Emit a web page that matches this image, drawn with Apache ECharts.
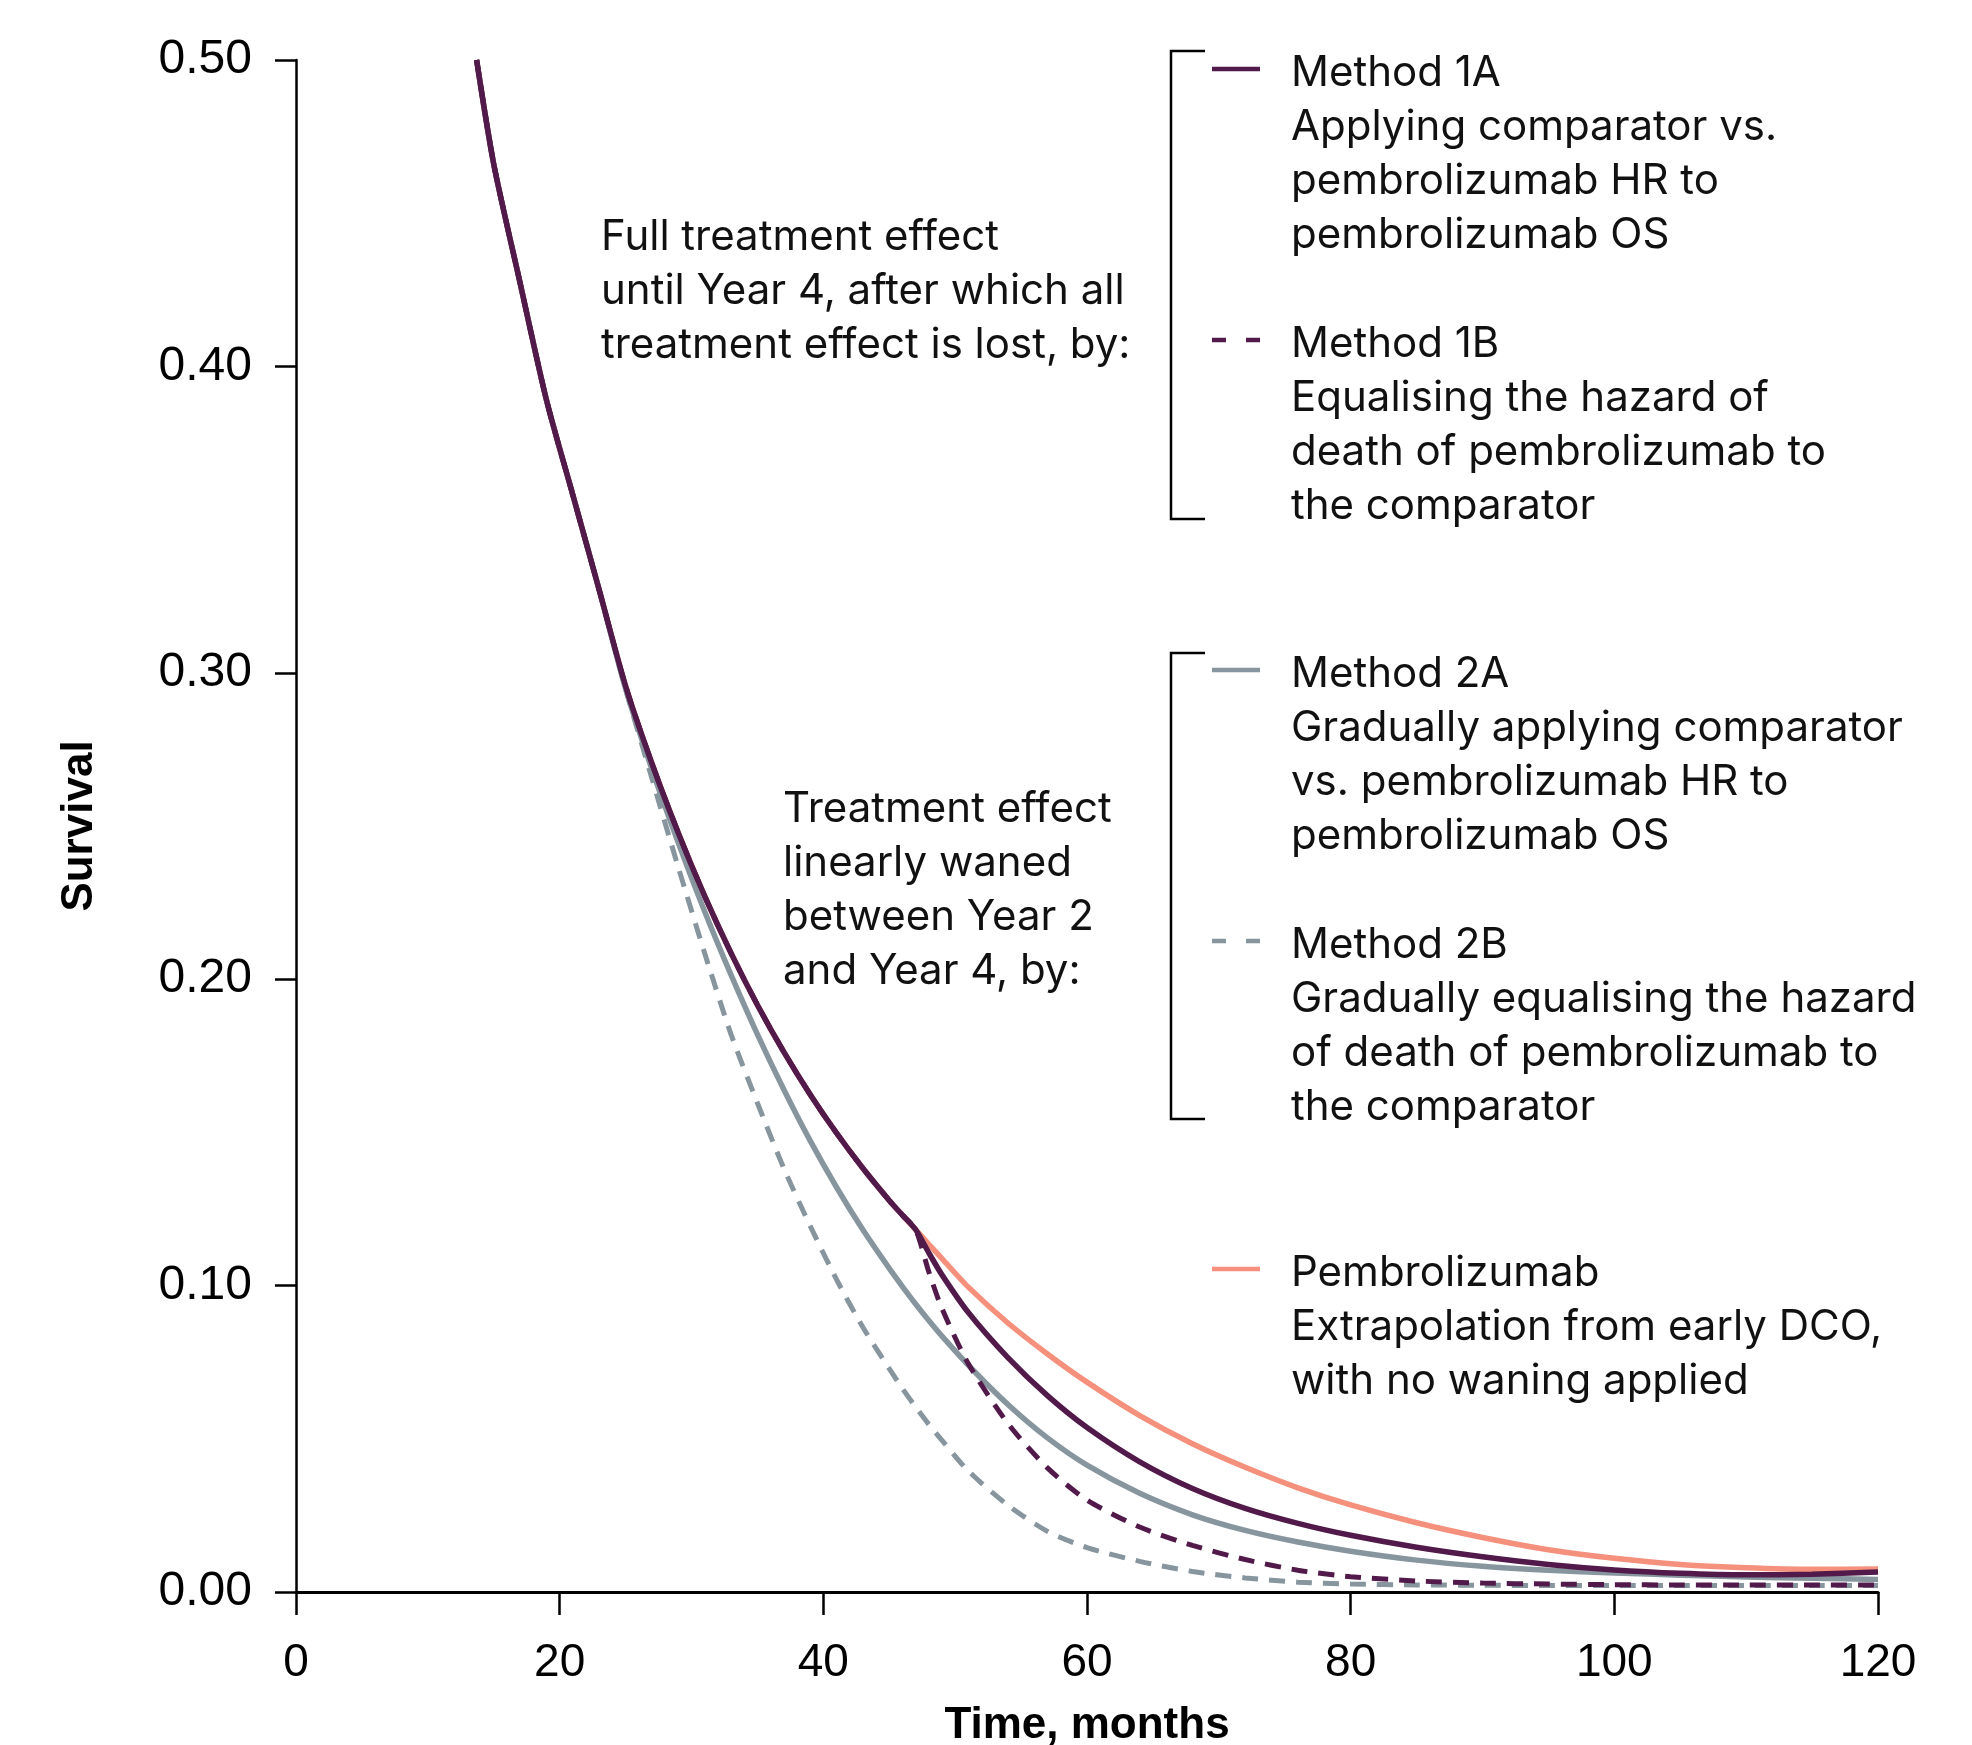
<!DOCTYPE html>
<html>
<head>
<meta charset="utf-8">
<title>Survival by waning method</title>
<script src="https://cdn.jsdelivr.net/npm/echarts@6/dist/echarts.min.js"></script>
<style>
  html, body { margin: 0; padding: 0; background: #fff; }
  #chart { width: 1972px; height: 1745px; }
</style>
</head>
<body>
<div id="chart"></div>
<script>
// time points (months)
const months = [13.7, 15, 17, 19, 21, 23, 25, 27, 29, 31, 33, 35, 37, 39, 41, 43, 45, 46, 47,
  48, 49, 51, 54, 57, 60, 64, 68, 72, 76, 80, 85, 90, 95, 100, 105, 110, 115, 120];

// pembrolizumab, no waning
const pembro = [0.500, 0.466, 0.4272, 0.3890, 0.358, 0.327, 0.2957, 0.2704, 0.2477, 0.2271, 0.2085, 0.1916, 0.1763, 0.1624, 0.1498, 0.1383, 0.1278, 0.1230, 0.1183,
  0.1135, 0.1088, 0.0995, 0.0878, 0.0777, 0.0685, 0.0576, 0.0484, 0.0407, 0.0340, 0.0284, 0.0226, 0.0178, 0.0138, 0.0110, 0.0090, 0.0079, 0.0074, 0.0075];

// Method 1A
const method1A = [0.500, 0.466, 0.4272, 0.3890, 0.358, 0.327, 0.2957, 0.2704, 0.2477, 0.2271, 0.2085, 0.1916, 0.1763, 0.1624, 0.1498, 0.1383, 0.1278, 0.1230, 0.1183,
  0.1107, 0.1035, 0.0912, 0.0765, 0.0641, 0.0537, 0.0425, 0.0338, 0.0273, 0.0224, 0.0185, 0.0146, 0.0115, 0.0090, 0.0072, 0.0061, 0.0056, 0.0058, 0.0065];

// Method 1B
const method1B = [0.500, 0.466, 0.4272, 0.3890, 0.358, 0.327, 0.2957, 0.2704, 0.2477, 0.2271, 0.2085, 0.1916, 0.1763, 0.1624, 0.1498, 0.1383, 0.1278, 0.1230, 0.1183,
  0.1045, 0.0925, 0.0745, 0.0550, 0.0405, 0.0300, 0.0212, 0.0152, 0.0106, 0.0071, 0.0050, 0.0036, 0.0029, 0.0026, 0.0024, 0.0023, 0.0023, 0.0023, 0.0023];

// Method 2A
const method2A = [0.500, 0.466, 0.4272, 0.3890, 0.358, 0.327, 0.2948, 0.2685, 0.2445, 0.2221, 0.2014, 0.1820, 0.1640, 0.1473, 0.1321, 0.1182, 0.1056, 0.0997, 0.0940,
  0.0886, 0.0835, 0.0740, 0.0612, 0.0503, 0.0414, 0.0322, 0.0252, 0.0201, 0.0163, 0.0133, 0.0104, 0.0084, 0.0071, 0.0062, 0.0055, 0.0049, 0.0045, 0.0041];

// Method 2B
const method2B = [0.500, 0.466, 0.4272, 0.3890, 0.358, 0.327, 0.2948, 0.2655, 0.2365, 0.2085, 0.1820, 0.1596, 0.1383, 0.1195, 0.1020, 0.0864, 0.0729, 0.0664, 0.0604,
  0.0547, 0.0495, 0.0395, 0.0283, 0.0198, 0.0145, 0.0100, 0.0067, 0.0046, 0.0032, 0.0026, 0.0023, 0.0022, 0.0021, 0.0021, 0.0021, 0.0021, 0.0021, 0.0021];

const xTicks = [0, 20, 40, 60, 80, 100, 120];
const yTicks = [0, 0.1, 0.2, 0.3, 0.4, 0.5];

const PURPLE = "#521a4a";
const GREY = "#87959e";
const SALMON = "#f4907b";

const textFont = "42px Inter, 'Noto Sans', sans-serif";

function pairs(values) {
  return months.map((m, i) => [m, values[i]]);
}

function lineSeries(name, values, color, dashed) {
  return {
    name: name,
    type: "line",
    data: pairs(values),
    showSymbol: false,
    smooth: 0.25,
    animation: false,
    lineStyle: {
      color: color,
      width: dashed ? 5 : 5.5,
      type: dashed ? [16, 11] : "solid",
      cap: "butt",
    },
  };
}

// legend block: sample line + text lines
function legendItem(y, color, dashed, lines) {
  return [
    {
      type: "line",
      shape: { x1: 1212, y1: y, x2: 1260, y2: y },
      style: { stroke: color, lineWidth: 4.5, lineDash: dashed ? [14, 20] : null },
    },
    {
      type: "text",
      x: 1291,
      y: y - 23,
      style: {
        text: lines.join("\n"),
        font: textFont,
        fill: "#111",
        lineHeight: 54,
        align: "left",
        verticalAlign: "top",
      },
    },
  ];
}

function bracket(top, bottom) {
  return {
    type: "polyline",
    shape: { points: [[1205, top], [1171, top], [1171, bottom], [1205, bottom]] },
    style: { stroke: "#000", lineWidth: 2.5, fill: null },
  };
}

const chart = echarts.init(document.getElementById("chart"));

chart.setOption({
  animation: false,
  grid: { left: 296, right: 94, top: 60, bottom: 153, outerBoundsMode: "none", containLabel: false },
  xAxis: {
    type: "value",
    min: 0,
    max: 120,
    interval: 20,
    name: "Time, months",
    nameLocation: "middle",
    nameGap: 112,
    nameTextStyle: { fontFamily: "Liberation Sans", fontWeight: "bold", fontSize: 44, color: "#000" },
    axisLine: { show: true, lineStyle: { color: "#000", width: 3 } },
    axisTick: { show: true, length: 23, lineStyle: { color: "#000", width: 2.5 } },
    axisLabel: {
      margin: 48,
      fontFamily: "Liberation Sans",
      fontSize: 46,
      color: "#000",
      formatter: (v) => (xTicks.includes(v) ? String(v) : ""),
    },
    splitLine: { show: false },
  },
  yAxis: {
    type: "value",
    min: 0,
    max: 0.5,
    interval: 0.1,
    name: "Survival",
    nameLocation: "middle",
    nameGap: 194,
    nameTextStyle: { fontFamily: "Liberation Sans", fontWeight: "bold", fontSize: 44, color: "#000" },
    axisLine: { show: true, lineStyle: { color: "#000", width: 2.5 } },
    axisTick: { show: true, length: 21, lineStyle: { color: "#000", width: 2.5 } },
    axisLabel: {
      margin: 44,
      fontFamily: "Liberation Sans",
      fontSize: 48,
      color: "#000",
      formatter: (v) => {
        const t = yTicks.find((k) => Math.abs(k - v) < 1e-9);
        return t === undefined ? "" : t.toFixed(2);
      },
    },
    splitLine: { show: false },
  },
  series: [
    lineSeries("Pembrolizumab", pembro, SALMON, false),
    lineSeries("Method 2B", method2B, GREY, true),
    lineSeries("Method 2A", method2A, GREY, false),
    lineSeries("Method 1B", method1B, PURPLE, true),
    lineSeries("Method 1A", method1A, PURPLE, false),
  ],
  graphic: [
    bracket(51, 519),
    bracket(653, 1119),
    ...legendItem(69, PURPLE, false, ["Method 1A", "Applying comparator vs.", "pembrolizumab HR to", "pembrolizumab OS"]),
    ...legendItem(340, PURPLE, true, ["Method 1B", "Equalising the hazard of", "death of pembrolizumab to", "the comparator"]),
    ...legendItem(670, GREY, false, ["Method 2A", "Gradually applying comparator", "vs. pembrolizumab HR to", "pembrolizumab OS"]),
    ...legendItem(941, GREY, true, ["Method 2B", "Gradually equalising the hazard", "of death of pembrolizumab to", "the comparator"]),
    ...legendItem(1269, SALMON, false, ["Pembrolizumab", "Extrapolation from early DCO,", "with no waning applied"]),
    {
      type: "text",
      x: 601,
      y: 233 - 23,
      style: {
        text: "Full treatment effect\nuntil Year 4, after which all\ntreatment effect is lost, by:",
        font: textFont,
        fill: "#111",
        lineHeight: 54,
        align: "left",
        verticalAlign: "top",
      },
    },
    {
      type: "text",
      x: 783,
      y: 805 - 23,
      style: {
        text: "Treatment effect\nlinearly waned\nbetween Year 2\nand Year 4, by:",
        font: textFont,
        fill: "#111",
        lineHeight: 54,
        align: "left",
        verticalAlign: "top",
      },
    },
  ],
});
</script>
</body>
</html>
